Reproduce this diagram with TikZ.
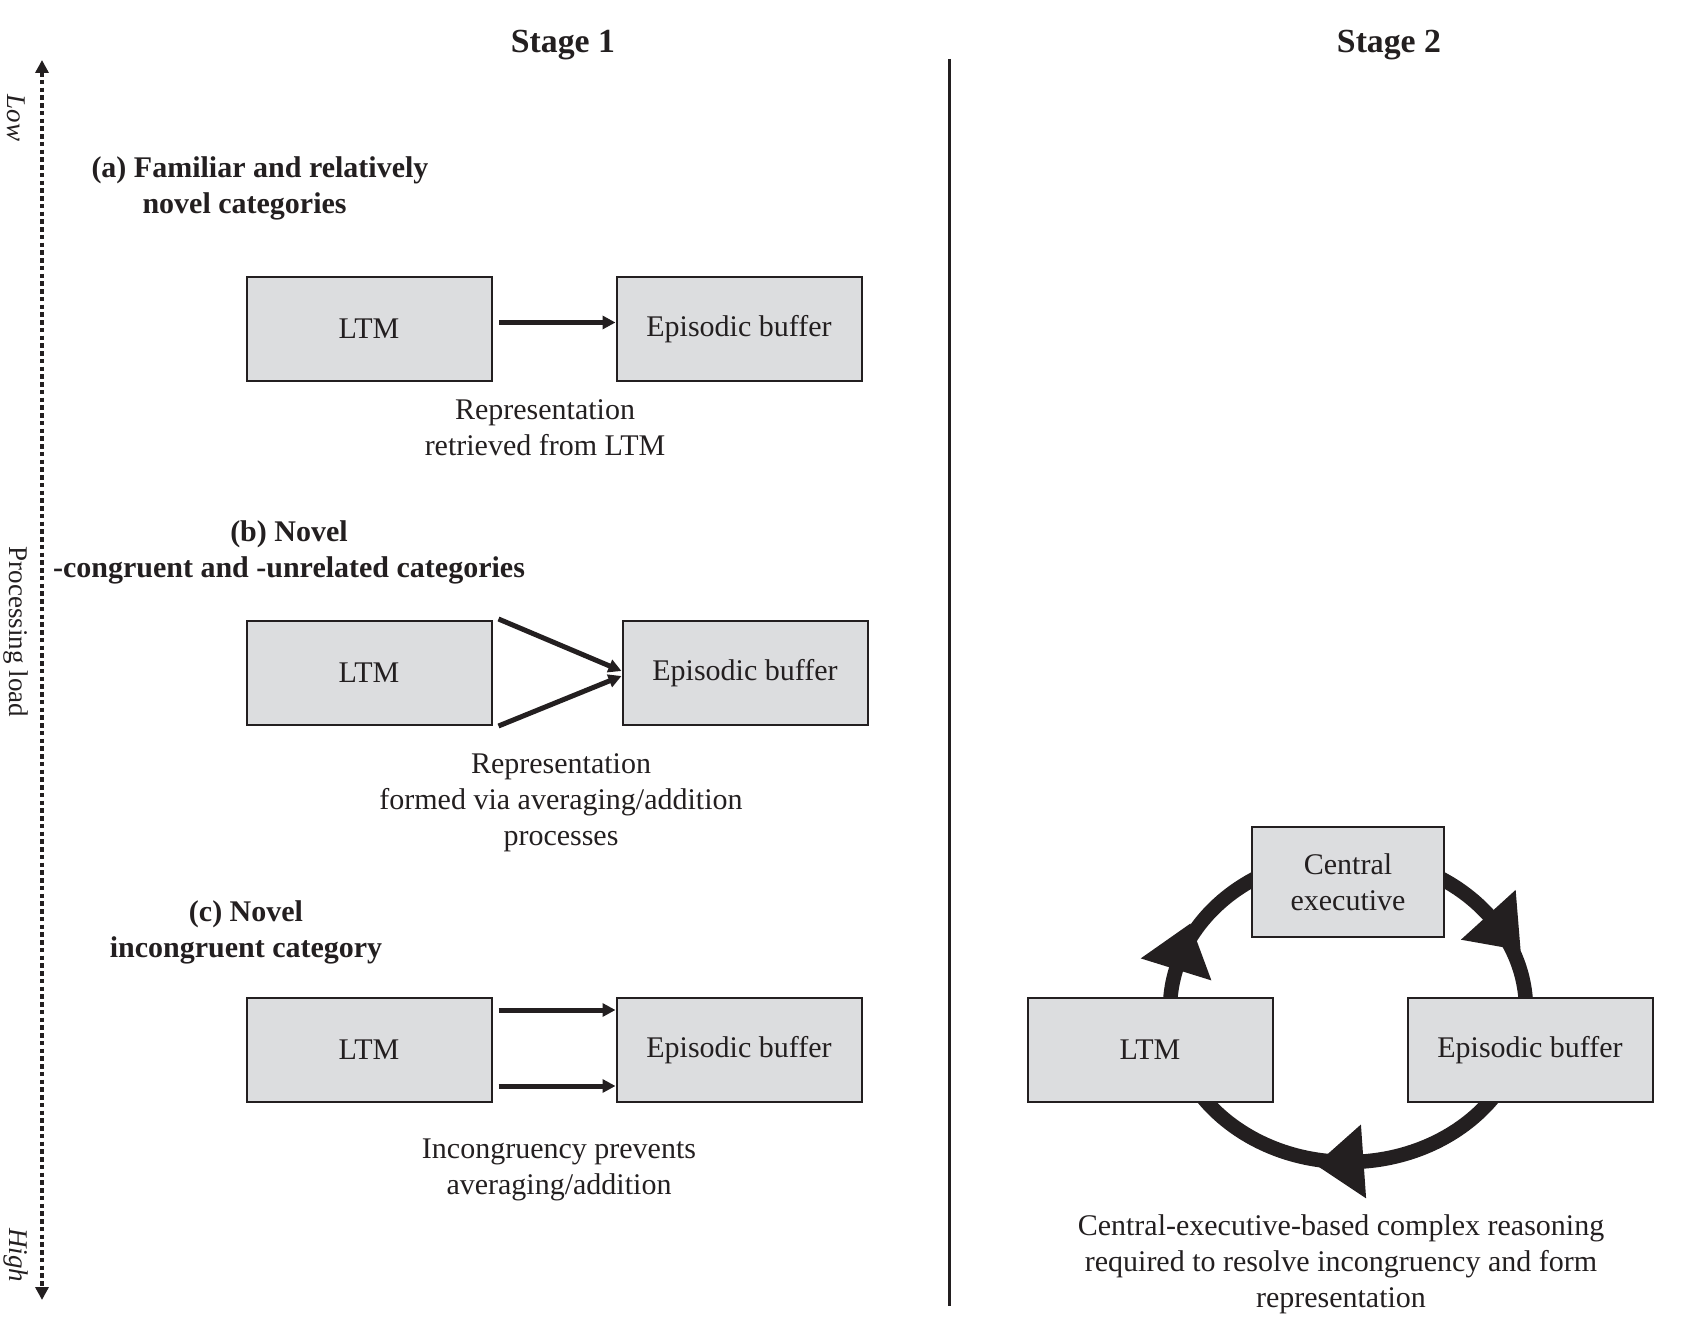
\documentclass[tikz,border=0pt]{standalone}
\usepackage{fontspec}
\setmainfont{Liberation Serif}
\usetikzlibrary{arrows.meta,calc,backgrounds}
\definecolor{ink}{RGB}{35,31,32}
\definecolor{boxgray}{RGB}{220,221,223}

\begin{document}
\begin{tikzpicture}
[
    x=0.4pt, y=0.4pt,
    every node/.style={inner sep=0pt, text=ink, font=\fontsize{12}{14.4}\selectfont},
    membox/.style={draw=ink, line width=0.8pt, fill=boxgray, minimum width=98pt, minimum height=41.6pt},
    stagetitle/.style={font=\fontsize{13.5}{16}\selectfont\bfseries},
    heading/.style={font=\fontsize{12}{14.4}\selectfont\bfseries},
    caption/.style={align=center},
    sidelabel/.style={rotate=-90, font=\fontsize{10.8}{13}\selectfont},
    flowarrow/.style={draw=ink, line width=2pt, -{Triangle[length=5.2pt, width=5.2pt]}},
    ring/.style={draw=ink, line width=5.8pt},
]
\useasboundingbox (0,0) rectangle (1681,1316);

\node [stagetitle] (stage1) at (563,1271) {Stage 1};
\node [stagetitle] (stage2) at (1389,1271) {Stage 2};

\coordinate (divtop) at (949,1257);
\coordinate (divbot) at (949,10);
\draw [ink, line width=1.2pt] (divtop) -- (divbot);

\coordinate (axtop) at (42,1256);
\coordinate (axbot) at (42,16);
\draw [ink, line width=1.8pt, dash pattern=on 1.8pt off 1.3pt,
    {Triangle[length=5.2pt, width=5.2pt]}-{Triangle[length=5.2pt, width=5.2pt]}] (axtop) -- (axbot);
\node [sidelabel, font=\fontsize{10.8}{13}\selectfont\itshape] (low) at (16,1198) {Low};
\node [sidelabel] (load) at (16,684) {Processing load};
\node [sidelabel, font=\fontsize{10.8}{13}\selectfont\itshape] (high) at (16,61) {High};

\node [heading, anchor=west, align=left] (heada) at (91,1128)
{(a) Familiar and relatively\\\hspace*{20.4pt}novel categories};
\node [membox] (ltma) at (369,987) {LTM};
\node [membox] (eba) at (739,987) {Episodic buffer};
\draw [flowarrow] ([xshift=2.6pt, yshift=2.6pt]ltma.east) -- ([yshift=2.6pt]eba.west);
\node [caption] (capa) at (545,888) {Representation\\retrieved from LTM};

\node [heading, align=center] (headb) at (289,764)
{(b) Novel\\-congruent and -unrelated categories};
\node [membox] (ltmb) at (369,643) {LTM};
\node [membox] (ebb) at (745,643) {Episodic buffer};
\draw [flowarrow] ([xshift=2.4pt, yshift=0.4pt]ltmb.north east) -- ([yshift=0.8pt]ebb.west);
\draw [flowarrow] ([xshift=2.4pt]ltmb.south east) -- ([yshift=-1.2pt]ebb.west);
\node [caption] (capb) at (561,513) {Representation\\formed via averaging/addition\\processes};

\node [heading, align=center] (headc) at (246,384) {(c) Novel\\incongruent category};
\node [membox] (ltmc) at (369,266) {LTM};
\node [membox] (ebc) at (739,266) {Episodic buffer};
\draw [flowarrow] ([xshift=2.4pt, yshift=16pt]ltmc.east) -- ([yshift=16pt]ebc.west);
\draw [flowarrow] ([xshift=2.4pt, yshift=-14.4pt]ltmc.east) -- ([yshift=-14.4pt]ebc.west);
\node [caption] (capc) at (559,146) {Incongruency prevents\\averaging/addition};

\node [membox, minimum width=76.8pt, minimum height=44pt, align=center] (ce) at (1348,434) {Central\\executive};
\node [membox] (ltm2) at (1150,266) {LTM};
\node [membox] (eb2) at (1530,266) {Episodic buffer};
\coordinate (ringc) at (1348,307);
\begin{scope}[on background layer]
\draw [ring] (ringc) ellipse [x radius=71.2pt, y radius=61.2pt];
\foreach \t/\r in {165/72.7, 38/-47.7, 275/184}
    \fill [ink, shift={($(ringc)+(\t:71.2pt and 61.2pt)$)}, rotate=\r]
        (0,14.8pt) -- (19.2pt,0) -- (0,-14.8pt) -- cycle;
\end{scope}
\node [caption] (cap2) at (1341,52)
{Central-executive-based complex reasoning\\required to resolve incongruency and form\\representation};
\end{tikzpicture}
\end{document}
